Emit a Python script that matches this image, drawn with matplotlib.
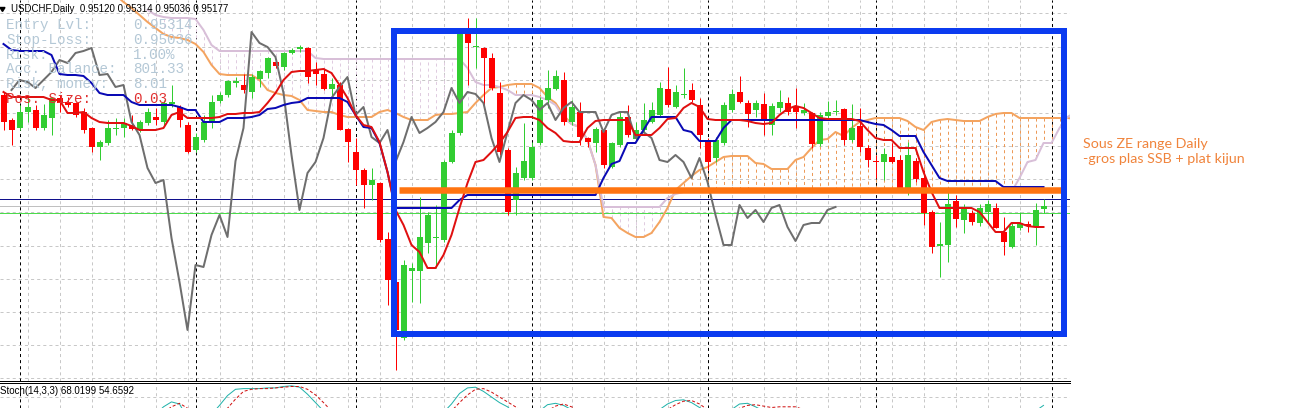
import numpy as np
import matplotlib
matplotlib.use("Agg")
import matplotlib.pyplot as plt
from matplotlib.patches import Rectangle, Polygon

plt.rcParams['lines.scale_dashes'] = False

W, H = 1300, 408
CHART_W = 1070
PX = 0.72  # one pixel in points at dpi 100

# USDCHF daily, bar 0 = leftmost bar on screen
opens = [0.9740, 0.9690, 0.9674, 0.9706, 0.9710, 0.9674, 0.9694, 0.9734, 0.9726, 0.9724,
         0.9706, 0.9674, 0.9636, 0.9644, 0.9672, 0.9674, 0.9680, 0.9670, 0.9684, 0.9696,
         0.9686, 0.9722, 0.9716, 0.9680, 0.9630, 0.9650, 0.9686, 0.9728, 0.9740, 0.9764,
         0.9760, 0.9746, 0.9772, 0.9784, 0.9806, 0.9796, 0.9824, 0.9832, 0.9834, 0.9790,
         0.9782, 0.9752, 0.9760, 0.9672, 0.9626, 0.9590, 0.9560, 0.9564, 0.9452, 0.9366,
         0.9254, 0.9388, 0.9388, 0.9444, 0.9454, 0.9450, 0.9606, 0.9664, 0.9864, 0.9836,
         0.9834, 0.9814, 0.9744, 0.9630, 0.9530, 0.9574, 0.9574, 0.9644, 0.9730, 0.9752,
         0.9770, 0.9686, 0.9706, 0.9654, 0.9644, 0.9670, 0.9596, 0.9640, 0.9696, 0.9652,
         0.9670, 0.9686, 0.9700, 0.9752, 0.9716, 0.9740, 0.9750, 0.9720, 0.9648, 0.9614,
         0.9644, 0.9710, 0.9746, 0.9724, 0.9710, 0.9722, 0.9680, 0.9714, 0.9724, 0.9716,
         0.9704, 0.9704, 0.9642, 0.9698, 0.9706, 0.9712, 0.9650, 0.9678, 0.9634, 0.9608,
         0.9606, 0.9616, 0.9610, 0.9554, 0.9608, 0.9574, 0.9506, 0.9438, 0.9440, 0.9528,
         0.9490, 0.9504, 0.9484, 0.9506, 0.9514, 0.9466, 0.9436, 0.9474, 0.9482, 0.9476,
         0.95120]
highs = [0.9746, 0.9694, 0.9720, 0.9736, 0.9720, 0.9722, 0.9736, 0.9740, 0.9736, 0.9726,
         0.9714, 0.9676, 0.9650, 0.9690, 0.9694, 0.9694, 0.9700, 0.9690, 0.9714, 0.9714,
         0.9730, 0.9760, 0.9720, 0.9686, 0.9664, 0.9700, 0.9740, 0.9746, 0.9770, 0.9776,
         0.9782, 0.9782, 0.9790, 0.9816, 0.9810, 0.9826, 0.9834, 0.9840, 0.9836, 0.9806,
         0.9794, 0.9774, 0.9766, 0.9674, 0.9654, 0.9594, 0.9594, 0.9566, 0.9466, 0.9370,
         0.9410, 0.9404, 0.9536, 0.9506, 0.9520, 0.9610, 0.9670, 0.9866, 0.9894, 0.9894,
         0.9836, 0.9824, 0.9766, 0.9634, 0.9596, 0.9684, 0.9646, 0.9736, 0.9790, 0.9790,
         0.9786, 0.9730, 0.9726, 0.9656, 0.9676, 0.9674, 0.9646, 0.9706, 0.9720, 0.9686,
         0.9724, 0.9726, 0.9766, 0.9796, 0.9760, 0.9794, 0.9764, 0.9734, 0.9654, 0.9656,
         0.9726, 0.9752, 0.9778, 0.9730, 0.9730, 0.9744, 0.9724, 0.9750, 0.9736, 0.9754,
         0.9724, 0.9706, 0.9706, 0.9728, 0.9730, 0.9714, 0.9722, 0.9714, 0.9640, 0.9620,
         0.9634, 0.9644, 0.9620, 0.9646, 0.9614, 0.9590, 0.9510, 0.9486, 0.9546, 0.9540,
         0.9522, 0.9510, 0.9522, 0.9530, 0.9524, 0.9496, 0.9486, 0.9506, 0.9488, 0.9524,
         0.95314]
lows = [0.9670, 0.9640, 0.9670, 0.9686, 0.9670, 0.9670, 0.9660, 0.9706, 0.9716, 0.9696,
        0.9664, 0.9626, 0.9610, 0.9640, 0.9660, 0.9656, 0.9670, 0.9666, 0.9680, 0.9680,
        0.9680, 0.9716, 0.9676, 0.9624, 0.9626, 0.9646, 0.9674, 0.9724, 0.9736, 0.9756,
        0.9744, 0.9734, 0.9756, 0.9774, 0.9794, 0.9790, 0.9822, 0.9826, 0.9764, 0.9760,
        0.9750, 0.9734, 0.9670, 0.9606, 0.9560, 0.9514, 0.9530, 0.9446, 0.9320, 0.9190,
        0.9250, 0.9326, 0.9324, 0.9424, 0.9394, 0.9446, 0.9604, 0.9660, 0.9760, 0.9794,
        0.9714, 0.9750, 0.9620, 0.9500, 0.9500, 0.9570, 0.9570, 0.9640, 0.9714, 0.9750,
        0.9680, 0.9680, 0.9640, 0.9636, 0.9626, 0.9594, 0.9594, 0.9636, 0.9656, 0.9650,
        0.9666, 0.9684, 0.9696, 0.9716, 0.9714, 0.9734, 0.9726, 0.9634, 0.9590, 0.9606,
        0.9640, 0.9706, 0.9724, 0.9676, 0.9696, 0.9660, 0.9660, 0.9706, 0.9700, 0.9674,
        0.9700, 0.9634, 0.9638, 0.9694, 0.9700, 0.9640, 0.9646, 0.9626, 0.9596, 0.9574,
        0.9570, 0.9604, 0.9550, 0.9540, 0.9566, 0.9480, 0.9424, 0.9376, 0.9406, 0.9476,
        0.9464, 0.9480, 0.9478, 0.9484, 0.9474, 0.9420, 0.9434, 0.9470, 0.9466, 0.9440,
        0.95036]
closes = [0.9686, 0.9670, 0.9706, 0.9716, 0.9674, 0.9700, 0.9734, 0.9724, 0.9720, 0.9700,
          0.9670, 0.9636, 0.9646, 0.9674, 0.9674, 0.9684, 0.9672, 0.9686, 0.9706, 0.9690,
          0.9724, 0.9726, 0.9690, 0.9626, 0.9656, 0.9686, 0.9726, 0.9740, 0.9768, 0.9768,
          0.9750, 0.9776, 0.9788, 0.9814, 0.9798, 0.9824, 0.9830, 0.9836, 0.9776, 0.9782,
          0.9752, 0.9762, 0.9670, 0.9646, 0.9590, 0.9560, 0.9570, 0.9450, 0.9370, 0.9270,
          0.9400, 0.9394, 0.9456, 0.9500, 0.9456, 0.9606, 0.9664, 0.9864, 0.9844, 0.9838,
          0.9814, 0.9754, 0.9626, 0.9506, 0.9584, 0.9608, 0.9636, 0.9730, 0.9754, 0.9778,
          0.9686, 0.9716, 0.9656, 0.9646, 0.9672, 0.9600, 0.9644, 0.9696, 0.9660, 0.9670,
          0.9690, 0.9710, 0.9754, 0.9720, 0.9746, 0.9742, 0.9730, 0.9660, 0.9606, 0.9650,
          0.9720, 0.9742, 0.9726, 0.9702, 0.9724, 0.9690, 0.9718, 0.9726, 0.9706, 0.9706,
          0.9710, 0.9642, 0.9700, 0.9706, 0.9708, 0.9650, 0.9674, 0.9636, 0.9610, 0.9606,
          0.9622, 0.9606, 0.9554, 0.9620, 0.9572, 0.9504, 0.9436, 0.9442, 0.9522, 0.9492,
          0.9512, 0.9486, 0.9514, 0.9522, 0.9474, 0.9446, 0.9478, 0.9484, 0.9478, 0.9510,
          0.95177]

# Ichimoku (9,26,52)
tenkan = [0.9746, 0.9736, 0.9736, 0.9736, 0.9736, 0.9736, 0.9730, 0.9730, 0.9704, 0.9704,
          0.9706, 0.9694, 0.9686, 0.9684, 0.9684, 0.9684, 0.9678, 0.9670, 0.9670, 0.9670,
          0.9674, 0.9700, 0.9706, 0.9694, 0.9694, 0.9694, 0.9694, 0.9696, 0.9702, 0.9702,
          0.9704, 0.9704, 0.9706, 0.9724, 0.9744, 0.9770, 0.9786, 0.9788, 0.9788, 0.9790,
          0.9792, 0.9784, 0.9760, 0.9734, 0.9700, 0.9680, 0.9676, 0.9646, 0.9586, 0.9510,
          0.9480, 0.9440, 0.9426, 0.9394, 0.9394, 0.9420, 0.9460, 0.9514, 0.9564, 0.9606,
          0.9610, 0.9626, 0.9644, 0.9666, 0.9694, 0.9696, 0.9696, 0.9690, 0.9674, 0.9664,
          0.9648, 0.9646, 0.9646, 0.9674, 0.9688, 0.9690, 0.9690, 0.9690, 0.9690, 0.9660,
          0.9660, 0.9660, 0.9674, 0.9692, 0.9694, 0.9714, 0.9724, 0.9716, 0.9692, 0.9690,
          0.9690, 0.9690, 0.9690, 0.9688, 0.9684, 0.9682, 0.9684, 0.9700, 0.9712, 0.9718,
          0.9714, 0.9704, 0.9694, 0.9692, 0.9692, 0.9692, 0.9692, 0.9688, 0.9670, 0.9654,
          0.9650, 0.9650, 0.9634, 0.9634, 0.9634, 0.9586, 0.9546, 0.9514, 0.9514, 0.9514,
          0.9514, 0.9514, 0.9506, 0.9486, 0.9466, 0.9466, 0.9484, 0.9484, 0.9478, 0.9476,
          0.9476]
kijun = [0.9842, 0.9830, 0.9828, 0.9828, 0.9828, 0.9828, 0.9820, 0.9782, 0.9780, 0.9780,
         0.9778, 0.9764, 0.9744, 0.9740, 0.9740, 0.9740, 0.9726, 0.9720, 0.9720, 0.9720,
         0.9720, 0.9720, 0.9716, 0.9710, 0.9710, 0.9686, 0.9686, 0.9686, 0.9694, 0.9694,
         0.9694, 0.9696, 0.9700, 0.9712, 0.9714, 0.9720, 0.9724, 0.9726, 0.9734, 0.9734,
         0.9734, 0.9734, 0.9734, 0.9726, 0.9700, 0.9676, 0.9674, 0.9644, 0.9586, 0.9514,
         0.9514, 0.9514, 0.9514, 0.9514, 0.9514, 0.9514, 0.9514, 0.9530, 0.9540, 0.9540,
         0.9540, 0.9540, 0.9540, 0.9540, 0.9540, 0.9540, 0.9540, 0.9540, 0.9540, 0.9540,
         0.9540, 0.9540, 0.9540, 0.9540, 0.9540, 0.9574, 0.9602, 0.9608, 0.9644, 0.9644,
         0.9670, 0.9696, 0.9696, 0.9696, 0.9696, 0.9670, 0.9666, 0.9648, 0.9648, 0.9648,
         0.9674, 0.9690, 0.9690, 0.9690, 0.9690, 0.9690, 0.9690, 0.9690, 0.9690, 0.9690,
         0.9690, 0.9690, 0.9690, 0.9690, 0.9690, 0.9690, 0.9690, 0.9690, 0.9686, 0.9682,
         0.9680, 0.9670, 0.9658, 0.9658, 0.9658, 0.9626, 0.9600, 0.9574, 0.9568, 0.9568,
         0.9568, 0.9568, 0.9568, 0.9568, 0.9568, 0.9556, 0.9556, 0.9556, 0.9556, 0.9556,
         0.9556]
chikou_start = 1
chikou = [0.9750, 0.9770, 0.9766, 0.9754, 0.9770, 0.9786, 0.9810, 0.9804, 0.9824,
          0.9828, 0.9834, 0.9780, 0.9782, 0.9756, 0.9760, 0.9686, 0.9660, 0.9594, 0.9564,
          0.9570, 0.9454, 0.9366, 0.9270, 0.9400, 0.9396, 0.9460, 0.9500, 0.9456, 0.9608,
          0.9674, 0.9866, 0.9844, 0.9836, 0.9816, 0.9744, 0.9620, 0.9510, 0.9584, 0.9606,
          0.9654, 0.9734, 0.9756, 0.9776, 0.9700, 0.9716, 0.9656, 0.9644, 0.9670, 0.9606,
          0.9646, 0.9696, 0.9664, 0.9674, 0.9686, 0.9706, 0.9754, 0.9724, 0.9746, 0.9742,
          0.9724, 0.9654, 0.9606, 0.9666, 0.9724, 0.9740, 0.9730, 0.9710, 0.9724, 0.9690,
          0.9714, 0.9726, 0.9706, 0.9706, 0.9706, 0.9666, 0.9700, 0.9706, 0.9706, 0.9654,
          0.9666, 0.9654, 0.9610, 0.9606, 0.9620, 0.9606, 0.9574, 0.9614, 0.9566, 0.9500,
          0.9440, 0.9440, 0.9520, 0.9494, 0.9510, 0.9486, 0.9514, 0.9520, 0.9476, 0.9448,
          0.9480, 0.9484, 0.9484, 0.9510, 0.9516]
ssa_start = 14
senkou_a = [0.9940, 0.9926, 0.9914, 0.9900, 0.9886, 0.9874, 0.9862, 0.9856, 0.9854, 0.9850,
            0.9842, 0.9826, 0.9800, 0.9782, 0.9780, 0.9780, 0.9780, 0.9780, 0.9770, 0.9750,
            0.9744, 0.9740, 0.9738, 0.9730, 0.9710, 0.9708, 0.9706, 0.9706, 0.9700, 0.9696,
            0.9696, 0.9696, 0.9696, 0.9706, 0.9710, 0.9704, 0.9696, 0.9690, 0.9690, 0.9690,
            0.9700, 0.9702, 0.9702, 0.9704, 0.9706, 0.9724, 0.9740, 0.9754, 0.9756, 0.9760,
            0.9762, 0.9762, 0.9762, 0.9754, 0.9736, 0.9724, 0.9700, 0.9682, 0.9676, 0.9650,
            0.9600, 0.9496, 0.9494, 0.9474, 0.9464, 0.9456, 0.9456, 0.9464, 0.9486, 0.9514,
            0.9550, 0.9564, 0.9578, 0.9590, 0.9596, 0.9606, 0.9616, 0.9618, 0.9618, 0.9618,
            0.9604, 0.9602, 0.9592, 0.9592, 0.9592, 0.9610, 0.9616, 0.9634, 0.9650, 0.9652,
            0.9666, 0.9658, 0.9674, 0.9686, 0.9690, 0.9694, 0.9694, 0.9694, 0.9694, 0.9688,
            0.9676, 0.9670, 0.9686, 0.9690, 0.9692, 0.9690, 0.9688, 0.9688, 0.9688, 0.9696,
            0.9702, 0.9704, 0.9704, 0.9694, 0.9694, 0.9694, 0.9694, 0.9694, 0.9694, 0.9694,
            0.9692]
ssb_start = 18
senkou_b = [0.9910, 0.9900, 0.9896, 0.9894, 0.9894, 0.9894, 0.9892, 0.9870, 0.9840,
            0.9828, 0.9828, 0.9828, 0.9828, 0.9828, 0.9828, 0.9828, 0.9828, 0.9828, 0.9828,
            0.9828, 0.9828, 0.9814, 0.9812, 0.9812, 0.9812, 0.9812, 0.9812, 0.9812, 0.9812,
            0.9812, 0.9812, 0.9812, 0.9812, 0.9812, 0.9812, 0.9812, 0.9812, 0.9812, 0.9812,
            0.9812, 0.9794, 0.9766, 0.9760, 0.9760, 0.9756, 0.9750, 0.9740, 0.9740, 0.9740,
            0.9736, 0.9730, 0.9720, 0.9694, 0.9682, 0.9676, 0.9650, 0.9600, 0.9516, 0.9516,
            0.9516, 0.9516, 0.9516, 0.9516, 0.9516, 0.9516, 0.9534, 0.9542, 0.9546, 0.9546,
            0.9546, 0.9546, 0.9546, 0.9546, 0.9546, 0.9546, 0.9546, 0.9546, 0.9546, 0.9546,
            0.9546, 0.9546, 0.9546, 0.9546, 0.9546, 0.9546, 0.9546, 0.9546, 0.9546, 0.9546,
            0.9546, 0.9546, 0.9546, 0.9546, 0.9546, 0.9546, 0.9546, 0.9546, 0.9546, 0.9546,
            0.9546, 0.9546, 0.9546, 0.9546, 0.9546, 0.9546, 0.9546, 0.9546, 0.9546, 0.9546,
            0.9574, 0.9606, 0.9610, 0.9644, 0.9644, 0.9674, 0.9696, 0.9706]

# Stochastic (14,3,3)
stoch_main = [40, 30, 35, 45, 38, 42, 55, 52, 48, 40,
              28, 15, 20, 35, 38, 42, 38, 45, 52, 55,
              66, 73, 70, 50, 40, 45, 55, 68, 82, 91,
              92, 92, 92, 93, 93, 95, 96, 94, 84, 72,
              60, 50, 35, 20, 12, 8, 10, 6, 4, 3,
              15, 18, 30, 38, 40, 58, 70, 85, 93, 94,
              88, 80, 72, 66, 55, 50, 52, 60, 69, 71,
              68, 62, 55, 48, 50, 40, 45, 52, 50, 55,
              56, 58, 62, 70, 75, 76, 72, 65, 55, 58,
              60, 62, 70, 71, 66, 60, 58, 55, 52, 50,
              48, 40, 45, 48, 50, 42, 45, 35, 28, 25,
              28, 26, 18, 25, 20, 12, 6, 8, 25, 30,
              35, 30, 38, 42, 32, 25, 35, 40, 50, 60,
              68.0199]
stoch_signal = [38, 35, 34, 37, 40, 42, 45, 48, 50, 47,
                40, 28, 21, 23, 31, 38, 39, 42, 45, 50,
                58, 66, 71, 64, 54, 45, 47, 55, 64, 77,
                88, 91, 92, 92, 93, 94, 95, 95, 91, 83,
                72, 60, 48, 35, 22, 13, 10, 8, 7, 4,
                7, 12, 21, 29, 36, 45, 60, 72, 83, 91,
                92, 87, 80, 73, 66, 58, 52, 54, 60, 67,
                70, 66, 60, 55, 51, 46, 45, 46, 49, 52,
                54, 56, 58, 62, 69, 74, 75, 70, 62, 59,
                58, 60, 64, 68, 69, 67, 65, 66, 66, 66,
                62, 46, 44, 44, 48, 47, 46, 41, 36, 29,
                27, 26, 24, 23, 21, 19, 13, 9, 13, 21,
                30, 32, 34, 37, 37, 33, 31, 33, 42, 50,
                54.6592]

# order levels from the risk calculator
entry_lvl = 0.95314
stop_loss = 0.95036
bid = 0.95177
info_labels = ["Entry Lvl:", "Stop-Loss:", "Risk:", "Acc. Balance:", "Risk, money:", "Pos. Size:"]
info_values = ["0.95314", "0.95036", "1.00%", "801.33", "8.01", "0.03"]

# hand drawn range box + level
box_bars = (48.8, 132.5)
box_prices = (0.9263, 0.9868)
level_price = 0.9550
level_bars = (49.4, 132.5)
note = "Sous ZE range Daily\n-gros plas SSB + plat kijun"

# chart window settings
price_top = 0.9930
price_per_px = 0.0002
separators = [2, 24, 44, 66, 88, 109, 131]


def fx(x):
    return x / W


def fy(y):
    return 1 - y / H


fig = plt.figure(figsize=(W / 100, H / 100), dpi=100)
ax = fig.add_axes([0, fy(381), CHART_W / W, 381 / H])
# bar i sits at pixel column 3 + 8*i
ax.set_xlim(-3.5 / 8, (CHART_W - 3.5) / 8)
ax.set_ylim(price_top - 381 * price_per_px, price_top)
ax.set_xticks([])
ax.set_yticks([])
for s in ['top', 'left', 'right']:
    ax.spines[s].set_visible(False)
ax.spines['bottom'].set_linewidth(PX)

grid_kw = dict(color='#c8c8c8', lw=PX, dashes=(2.2, 2.2), zorder=0)
for p in np.arange(0.99034, 0.9168, -0.00664):
    ax.axhline(p, **grid_kw)
for b in range(3, 134, 4):
    ax.axvline(b, **grid_kw)
for b in separators:
    ax.axvline(b, color='black', lw=PX, dashes=(2.2, 2.2), zorder=0.5)

# cloud hatch
ssa_x = np.arange(ssa_start, ssa_start + len(senkou_a))
ssb_x = np.arange(ssb_start, ssb_start + len(senkou_b))
a_al = np.array(senkou_a)[ssb_start - ssa_start:]
b_al = np.array(senkou_b)
hatch_col = np.where(a_al >= b_al, '#ec9a58', '#e0cce0')
ax.vlines(ssb_x, a_al, b_al, colors=hatch_col, lw=PX, linestyles=(0, (2.2, 2.2)), zorder=1)

ax.plot(ssa_x, senkou_a, color='#f4a460', lw=2 * PX, zorder=2)
ax.plot(ssb_x, senkou_b, color='#d8bfd8', lw=2 * PX, zorder=2)

# price lines
ax.axhline(entry_lvl, color='#10108c', lw=PX, zorder=1.5)
ax.axhline(bid, color='#c0c0c0', lw=PX, zorder=1.5)
ax.axhline(stop_loss, color='#4cdc4c', lw=PX, zorder=1.5)

# candles
o = np.array(opens)
c = np.array(closes)
bars = np.arange(len(closes))
col = np.where(c >= o, '#32cd32', '#ff0000')
ax.vlines(bars, lows, highs, colors=col, lw=PX, zorder=3)
ax.bar(bars, np.maximum(np.abs(c - o), 0.0002), width=0.75, bottom=np.minimum(o, c),
       color=col, lw=0, zorder=3)

ax.plot(np.arange(chikou_start, chikou_start + len(chikou)), chikou, color='#6e6e6e', lw=2 * PX, zorder=4)
ax.plot(bars, kijun, color='#0a0ab4', lw=2 * PX, zorder=4)
ax.plot(bars, tenkan, color='#e01010', lw=2 * PX, zorder=4)

# hand drawn annotations
ax.add_patch(Rectangle((box_bars[0], box_prices[0]), box_bars[1] - box_bars[0],
                       box_prices[1] - box_prices[0], fill=False, ec='#0b3bf0', lw=6 * PX,
                       joinstyle='miter', zorder=6))
ax.plot(level_bars, [level_price, level_price], color='#ff7410', lw=6.5 * PX,
        solid_capstyle='butt', zorder=5)

# info panel
for k, (lab, val) in enumerate(zip(info_labels, info_values)):
    tc = '#e03030' if k == len(info_labels) - 1 else '#b4c8d6'
    y = 29.3 + 14.7 * k
    fig.text(fx(6), fy(y), lab, family='Liberation Mono', size=10.3, color=tc, va='baseline', zorder=7)
    fig.text(fx(132.7), fy(y), val, family='Liberation Mono', size=10.3, color=tc, va='baseline', zorder=7)

# header
fig.add_artist(Polygon([[fx(0), fy(7.5)], [fx(5), fy(7.5)], [fx(2.5), fy(11.5)]],
                       closed=True, color='black', transform=fig.transFigure))
fig.text(fx(11), fy(8.5), "USDCHF,Daily  0.95120 0.95314 0.95036 0.95177",
         family='Liberation Sans', size=7, color='black', va='center')

fig.text(fx(1083), fy(163.3), note, family='Lato', size=10.3, color='#f0843c',
         va='baseline', linespacing=1.35)

# stochastic sub window (only its top strip is visible)
ax2 = fig.add_axes([0, 0, CHART_W / W, 25 / H])
ax2.set_xlim(ax.get_xlim())
ax2.set_ylim(100 - 25 * 20 / 14, 100)
ax2.set_xticks([])
ax2.set_yticks([])
for s in ['bottom', 'left', 'right']:
    ax2.spines[s].set_visible(False)
ax2.spines['top'].set_linewidth(PX)
for b in range(3, 134, 4):
    ax2.axvline(b, **grid_kw)
for b in separators:
    ax2.axvline(b, color='black', lw=PX, dashes=(2.2, 2.2), zorder=0.5)
ax2.axhline(80, **grid_kw)
ax2.plot(bars, stoch_main, color='#20b2aa', lw=PX, zorder=2)
ax2.plot(bars, stoch_signal, color='#d01010', lw=PX, dashes=(2.2, 1.5), zorder=2)
fig.text(fx(0), fy(391.5), "Stoch(14,3,3) 68.0199 54.6592", family='Liberation Sans',
         size=7, color='black', va='center')

fig.savefig('out.png', dpi=100, facecolor='white')
